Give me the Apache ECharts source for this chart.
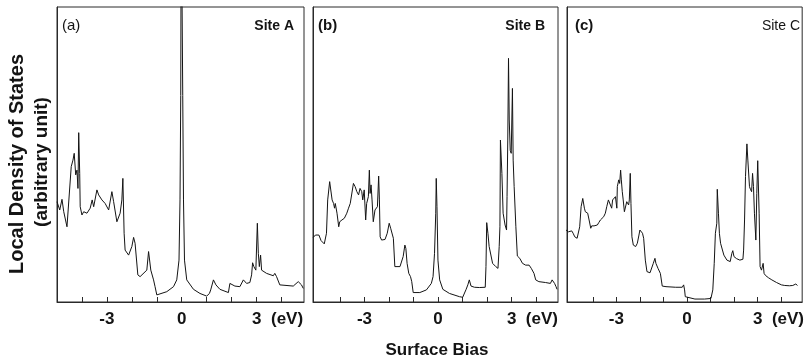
<!DOCTYPE html>
<html><head><meta charset="utf-8">
<script src="https://cdn.jsdelivr.net/npm/echarts@6/dist/echarts.min.js"></script>
<style>html,body{margin:0;padding:0;background:#fff}#c{width:807px;height:362px}</style>
</head><body><div id="c"></div>
<script>
// Panel (a) Site A
const aX = [-5.0,-4.89,-4.8,-4.73,-4.6,-4.53,-4.43,-4.36,-4.31,-4.25,-4.2,-4.16,-4.13,-4.09,-4.07,-4.0,-3.93,-3.8,-3.67,-3.59,-3.53,-3.4,-3.33,-3.2,-3.07,-2.93,-2.8,-2.73,-2.6,-2.47,-2.4,-2.36,-2.31,-2.27,-2.13,-2.0,-1.93,-1.87,-1.8,-1.76,-1.67,-1.4,-1.33,-1.29,-1.24,-1.13,-1.07,-1.0,-0.93,-0.6,-0.33,-0.2,-0.11,-0.07,-0.04,-0.02,0.02,0.04,0.07,0.11,0.2,0.47,0.73,1.0,1.07,1.11,1.16,1.27,1.31,1.37,1.53,1.87,1.93,2.0,2.13,2.33,2.47,2.53,2.6,2.73,2.8,2.84,2.89,2.97,3.03,3.07,3.11,3.16,3.2,3.27,3.4,3.67,3.73,3.8,3.93,4.47,4.67,4.73,4.8,4.87];
const aY = [34.0,31.2,34.8,30.6,25.5,25.2,45.9,48.1,50.4,43.1,44.7,38.5,57.4,43.6,32.3,29.5,30.6,30.1,31.8,34.6,32.3,38.0,36.3,34.6,33.4,31.2,37.4,34.0,27.2,30.1,34.6,41.9,23.3,17.6,15.9,18.8,21.9,19.9,19.3,9.2,8.6,10.8,17.1,16.8,10.8,7.5,5.2,2.4,2.6,3.5,5.2,7.5,14.2,34.6,70,140,140,70,34.6,14.2,7.5,4.3,2.9,2.0,1.8,2.9,4.1,7.5,8.0,5.8,4.3,3.2,6.3,6.6,5.4,5.2,7.5,8.0,6.3,6.6,9.2,13.3,12.0,10.8,26.7,16.5,12.0,15.9,10.8,11.4,9.7,8.9,9.7,8.6,5.8,5.4,6.9,7.2,5.8,4.6];
// Panel (b) Site B
const bX = [-5.09,-5.0,-4.93,-4.86,-4.77,-4.64,-4.55,-4.5,-4.42,-4.39,-4.32,-4.26,-4.22,-4.19,-4.12,-4.05,-4.01,-3.92,-3.82,-3.72,-3.65,-3.58,-3.45,-3.38,-3.31,-3.24,-3.18,-3.11,-3.07,-3.01,-2.95,-2.91,-2.84,-2.8,-2.77,-2.73,-2.69,-2.64,-2.57,-2.47,-2.42,-2.39,-2.36,-2.3,-2.16,-2.07,-1.99,-1.93,-1.88,-1.82,-1.76,-1.69,-1.55,-1.42,-1.35,-1.31,-1.26,-1.19,-1.12,-1.07,-1.01,-0.95,-0.74,-0.47,-0.27,-0.2,-0.14,-0.09,-0.07,-0.04,0,0.07,0.2,0.47,0.88,1.01,1.08,1.15,1.22,1.28,1.35,1.49,1.69,1.93,1.96,1.99,2.04,2.09,2.23,2.36,2.45,2.5,2.53,2.55,2.61,2.66,2.74,2.8,2.82,2.85,2.88,2.91,2.95,2.99,3.04,3.07,3.11,3.18,3.24,3.34,3.45,3.58,3.65,3.72,3.76,3.81,3.92,3.99,4.12,4.39,4.59,4.66,4.7,4.76,4.82,4.86];
const bY = [21.9,22.7,22.4,22.7,20.8,19.7,23.3,34.6,40.8,41.4,34.6,33.4,31.8,33.4,30.1,25.5,27.2,27.8,28.4,30.1,31.8,33.4,40.2,39.1,37.4,36.3,38.5,37.4,34.6,38.0,27.8,33.4,35.7,44.7,36.8,39.7,34.6,27.2,31.2,32.3,42.7,34.6,22.1,21.0,21.2,23.3,26.7,25.0,24.4,21.6,12.0,11.4,12.0,15.4,19.3,18.2,13.1,9.7,8.6,6.9,3.2,2.9,3.2,4.1,6.3,8.6,16.5,30.1,41.9,32.3,14.2,7.5,4.3,2.9,1.8,1.6,1.8,4.3,5.8,7.5,5.4,5.0,4.9,5.0,12.0,26.9,23.3,18.8,13.1,12.0,11.4,18.8,25.5,54.9,43.6,30.1,26.1,24.4,35.7,54.9,82.6,61.7,51.4,50.4,72.4,48.1,39.1,25.5,15.6,14.8,13.1,12.5,12.0,12.5,13.1,11.4,9.7,7.5,6.9,6.6,6.3,7.5,7.5,6.3,5.2,4.3];
// Panel (c) Site C
const cX = [-5.14,-5.04,-4.97,-4.9,-4.84,-4.77,-4.67,-4.6,-4.56,-4.5,-4.43,-4.36,-4.32,-4.26,-4.22,-4.16,-4.09,-4.05,-3.95,-3.81,-3.75,-3.68,-3.61,-3.54,-3.47,-3.41,-3.34,-3.27,-3.2,-3.16,-3.11,-3.04,-2.98,-2.96,-2.9,-2.86,-2.82,-2.79,-2.75,-2.71,-2.66,-2.62,-2.56,-2.52,-2.48,-2.45,-2.41,-2.38,-2.34,-2.28,-2.18,-2.11,-2.04,-2.0,-1.95,-1.89,-1.84,-1.77,-1.7,-1.57,-1.43,-1.36,-1.32,-1.23,-1.13,-1.05,-0.89,-0.48,-0.2,-0.14,-0.1,-0.07,-0.03,0.34,0.75,1.02,1.06,1.1,1.16,1.21,1.27,1.29,1.34,1.38,1.43,1.57,1.7,1.84,1.91,1.95,2.0,2.11,2.25,2.38,2.41,2.45,2.49,2.55,2.59,2.66,2.7,2.75,2.79,2.83,2.87,2.93,2.97,3.01,3.07,3.11,3.17,3.24,3.28,3.34,3.47,3.61,3.81,4.02,4.16,4.36,4.5,4.63,4.7];
const cY = [24.4,23.8,24.4,24.1,23.3,22.1,21.6,21.6,25.5,32.3,35.1,31.8,30.6,31.2,30.1,27.8,25.0,25.8,25.8,26.1,26.9,27.8,28.4,28.9,30.1,32.3,34.6,34.0,31.8,34.6,34.8,35.7,31.8,39.1,41.4,40.2,44.7,41.4,37.4,34.6,30.6,30.1,34.0,33.4,32.9,34.6,43.6,33.4,22.1,19.3,18.8,19.9,22.7,24.4,25.0,23.3,21.6,14.2,10.3,9.9,13.1,14.8,13.1,11.4,9.7,5.4,5.2,5.0,5.0,5.8,4.1,1.8,1.5,1.0,1.0,1.2,1.8,4.1,13.1,23.3,26.7,38.2,30.1,23.3,19.9,15.9,14.2,13.7,16.5,17.4,15.4,14.7,14.2,14.5,17.6,27.8,42.5,53.6,48.1,39.1,38.2,37.4,43.6,39.1,30.1,21.0,36.8,47.9,30.1,12.0,10.8,13.1,9.7,9.0,8.2,7.5,6.6,5.8,5.6,5.5,5.6,6.1,5.6];

const tickValues = [-4,-3,-2,-1,0,1,2,3,4];
const labelValues = [-3,0,3];
const panelLetters = ['(a)','(b)','(c)'];
const siteNames = ['Site A','Site B','Site C'];
const xAxisTitle = 'Surface Bias';
const yAxisTitle1 = 'Local Density of States';
const yAxisTitle2 = '(arbitrary unit)';

const FONT = '"Liberation Sans", Arial, Helvetica, sans-serif';
const INK = '#141414';
const panels = [
  {left: 57, width: 247, min: -5.0, max: 4.9, x: aX, y: aY},
  {left: 313, width: 245, min: -5.1, max: 4.9, x: bX, y: bY},
  {left: 567, width: 245, min: -5.1, max: 4.9, x: cX, y: cY}
];
const chart = echarts.init(document.getElementById('c'), null, {renderer: 'canvas'});
const grids = [], xAxes = [], yAxes = [], series = [];
panels.forEach((p, i) => {
  grids.push({left: p.left, top: 7, width: p.width, height: 295, show: true,
    borderColor: '#2a2a2a', borderWidth: 1, backgroundColor: 'transparent', containLabel: false});
  xAxes.push({type: 'value', gridIndex: i, min: p.min, max: p.max,
    axisLine: {show: true, onZero: false, lineStyle: {color: '#2a2a2a', width: 1}},
    axisTick: {show: true, inside: true, length: 5, customValues: tickValues, lineStyle: {color: '#2a2a2a'}},
    splitLine: {show: false},
    axisLabel: {show: true, customValues: labelValues, margin: 9, color: INK,
      fontFamily: FONT, fontWeight: 'bold', fontSize: 17,
      formatter: v => v === 3 ? '{s|}3  (eV)' : String(v).replace('\u2212','-'),
      rich: {s: {width: 42}}}
  });
  yAxes.push({type: 'value', gridIndex: i, min: 0, max: 100,
    axisLine: {show: true, onZero: false, lineStyle: {color: '#2a2a2a'}}, axisTick: {show: false},
    axisLabel: {show: false}, splitLine: {show: false}});
  series.push({type: 'line', xAxisIndex: i, yAxisIndex: i, showSymbol: false, symbol: 'none',
    clip: true, animation: false,
    lineStyle: {color: INK, width: 1},
    data: p.x.map((v, k) => [v, p.y[k]])});
});
const letterX = [62, 318, 575];
const siteX = [294, 545, 800];
const graphic = [
  {type: 'text', x: 17, y: 164, rotation: Math.PI/2,
    style: {text: yAxisTitle1, fill: INK, font: 'bold 20px ' + FONT, textAlign: 'center', textVerticalAlign: 'middle'}},
  {type: 'text', x: 42, y: 162, rotation: Math.PI/2,
    style: {text: yAxisTitle2, fill: INK, font: 'bold 19px ' + FONT, textAlign: 'center', textVerticalAlign: 'middle'}},
  {type: 'text', x: 437, y: 350,
    style: {text: xAxisTitle, fill: INK, font: 'bold 17px ' + FONT, textAlign: 'center', textVerticalAlign: 'middle'}}
];
panelLetters.forEach((t, i) => {
  graphic.push({type: 'text', x: letterX[i], y: 26,
    style: {text: t, fill: INK, font: (i === 0 ? '' : 'bold ') + '15px ' + FONT, textAlign: 'left', textVerticalAlign: 'middle'}});
  graphic.push({type: 'text', x: siteX[i], y: 26,
    style: {text: siteNames[i], fill: INK, font: (i === 2 ? '' : 'bold ') + '14px ' + FONT, textAlign: 'right', textVerticalAlign: 'middle'}});
});
chart.setOption({animation: false, backgroundColor: '#fff', grid: grids, xAxis: xAxes, yAxis: yAxes, series: series, graphic: graphic});
</script></body></html>
